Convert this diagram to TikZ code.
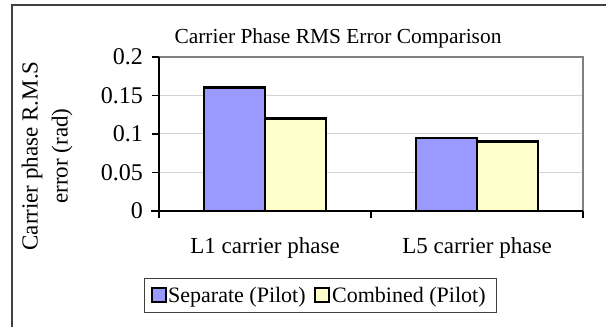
\documentclass[tikz,border=0pt]{standalone}
\usepackage{fontspec}
\setmainfont{Liberation Serif}
\usepackage{tikz}

\definecolor{sepblue}{RGB}{153,153,255}
\definecolor{combyellow}{RGB}{255,255,204}
\definecolor{framegray}{RGB}{64,64,64}
\definecolor{bordergray}{RGB}{128,128,128}
\definecolor{gridgray}{RGB}{210,210,210}

\tikzset{
  bar/.style={draw=black,line width=2.6pt},
  legmark/.style={draw=black,line width=1.8pt},
  axisline/.style={black,line width=1.4pt},
  ticklabel/.style={anchor=east,inner sep=0pt,font=\fontsize{24}{28}\selectfont},
  catlabel/.style={anchor=base,inner sep=0pt,font=\fontsize{23}{28}\selectfont},
  legtext/.style={anchor=base west,inner sep=0pt,font=\fontsize{22}{26}\selectfont}
}

\begin{document}
\begin{tikzpicture}[x=1pt,y=-1pt]
\useasboundingbox (0,0) rectangle (606,327);
% outer frame
\draw[framegray,line width=1.5pt] (12,327) -- (12,5) -- (606,5);

\node[anchor=base,inner sep=0pt,font=\fontsize{21.4}{25}\selectfont] (title) at (338,43) {Carrier Phase RMS Error Comparison};

% grid and plot border
\foreach \v in {0.05,0.1,0.15}
  \draw[gridgray,line width=1pt] (159,{211-770*\v}) -- (583,{211-770*\v});
\draw[bordergray,line width=1.5pt] (159,57) -- (583,57) -- (583,211);

% bars
\draw[bar,fill=sepblue] (204,211) rectangle (265,{211-770*0.16});
\draw[bar,fill=combyellow] (265,211) rectangle (326,{211-770*0.12});
\draw[bar,fill=sepblue] (416,211) rectangle (477,{211-770*0.095});
\draw[bar,fill=combyellow] (477,211) rectangle (538,{211-770*0.09});

% axes
\draw[axisline] (159,57) -- (159,218);
\draw[axisline] (151,211) -- (583,211);
\foreach \v in {0.05,0.1,0.15,0.2}
  \draw[axisline] (152,{211-770*\v}) -- (159,{211-770*\v});
\draw[axisline] (371,211) -- (371,218);
\draw[axisline] (583,211) -- (583,218);

\foreach \v/\n in {0/t0,0.05/t1,0.1/t2,0.15/t3,0.2/t4}
  \node[ticklabel] (\n) at (143,{211-770*\v}) {\v};

\node[catlabel] (l1) at (265,253) {L1 carrier phase};
\node[catlabel] (l5) at (477,253) {L5 carrier phase};

\node[rotate=90,align=center,inner sep=0pt,font=\fontsize{23}{30}\selectfont] (ylab) at (47,156) {Carrier phase R.M.S\\error (rad)};

% legend
\draw[framegray,line width=1pt] (144,278) rectangle (496,312);
\draw[legmark,fill=sepblue] (152,288) rectangle (166,302);
\node[legtext] (sep) at (168,302) {Separate (Pilot)};
\draw[legmark,fill=combyellow] (315,288) rectangle (329,302);
\node[legtext] (comb) at (332,302) {Combined (Pilot)};
\end{tikzpicture}
\end{document}
